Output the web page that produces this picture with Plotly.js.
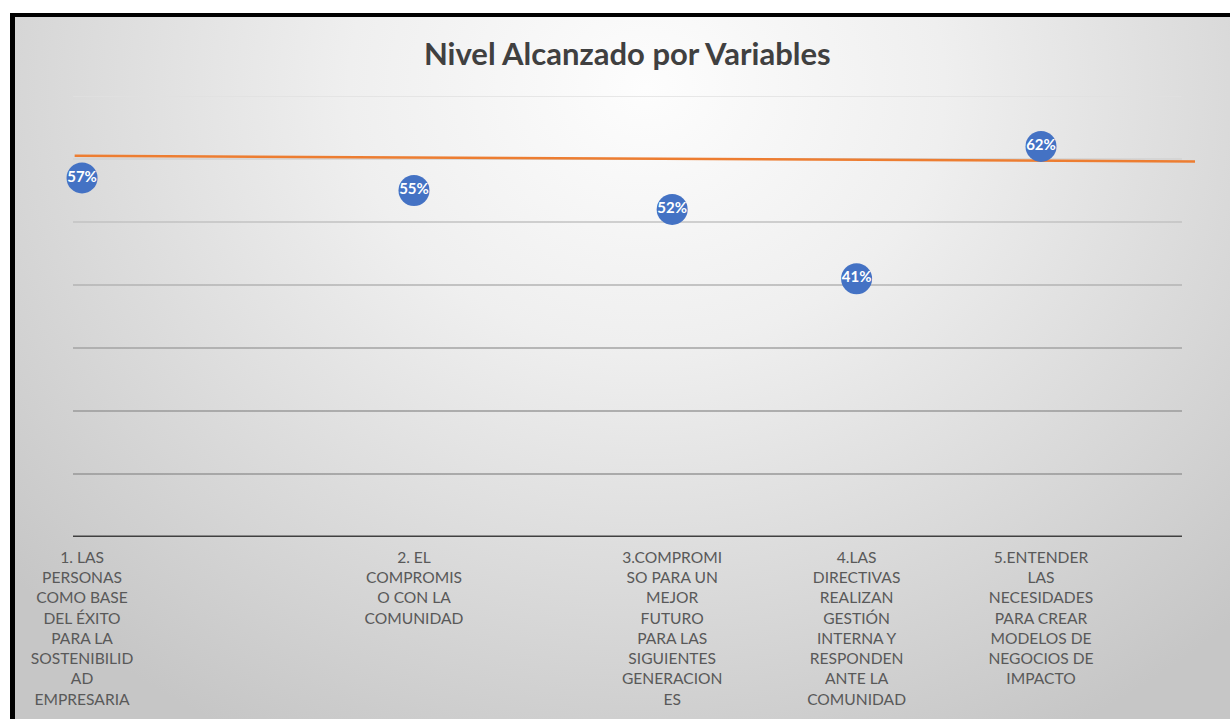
<!DOCTYPE html>
<html>
<head>
<meta charset="utf-8">
<script src="https://cdn.plot.ly/plotly-3.0.1.min.js"></script>
<style>
  html, body { margin: 0; padding: 0; background: #ffffff; width: 1230px; height: 719px; overflow: hidden; }
  #frame {
    position: absolute; left: 10px; top: 13px; width: 1220px; height: 706px;
    box-sizing: border-box; border-top: 4px solid #000; border-left: 5px solid #000;
    background: radial-gradient(ellipse 70% 105% at 52% 10%, #fdfdfd 0%, #efefef 35%, #d9d9d9 70%, #c6c6c6 100%);
  }
  #chart { position: absolute; left: 0; top: 0; width: 1230px; height: 719px; }
</style>
</head>
<body>
<div id="frame"></div>
<div id="chart"></div>
<script>
// ---- data ----
const categories = [
  "1. LAS<br>PERSONAS<br>COMO BASE<br>DEL ÉXITO<br>PARA LA<br>SOSTENIBILID<br>AD<br>EMPRESARIA",
  "2. EL<br>COMPROMIS<br>O CON LA<br>COMUNIDAD",
  "3.COMPROMI<br>SO PARA UN<br>MEJOR<br>FUTURO<br>PARA LAS<br>SIGUIENTES<br>GENERACION<br>ES",
  "4.LAS<br>DIRECTIVAS<br>REALIZAN<br>GESTIÓN<br>INTERNA Y<br>RESPONDEN<br>ANTE LA<br>COMUNIDAD",
  "5.ENTENDER<br>LAS<br>NECESIDADES<br>PARA CREAR<br>MODELOS DE<br>NEGOCIOS DE<br>IMPACTO"
];
const xPositions = [0, 3.6, 6.4, 8.4, 10.4];
const levels = [0.57, 0.55, 0.52, 0.41, 0.62];
const levelLabels = ["57%", "55%", "52%", "41%", "62%"];
const targetX = [-0.08, 12.07];
const targetY = [0.605, 0.596];
const yTicks = [0.1, 0.2, 0.3, 0.4, 0.5, 0.6, 0.7];

// ---- styles ----
const gridColors = ["#979797", "#9a9a9a", "#a3a3a3", "#b3b3b3", "#c2c2c2", "#d2d2d2", "#e0e0e0"];
const FONT = "Lato, 'Open Sans', sans-serif";

const shapes = yTicks.map((v, i) => ({
  type: "line", xref: "paper", yref: "y", x0: 0, x1: 0.9884, y0: v, y1: v,
  line: { color: gridColors[i], width: 1.5 }, layer: "below"
}));
shapes.push({
  type: "line", xref: "paper", yref: "y", x0: 0, x1: 0.9884, y0: 0, y1: 0,
  line: { color: "#404040", width: 3 }, layer: "below"
});

const traces = [
  {
    type: "scatter", mode: "lines", x: targetX, y: targetY,
    line: { color: "#ED7D31", width: 2.5 }, hoverinfo: "skip", showlegend: false
  },
  {
    type: "scatter", mode: "markers+text", x: xPositions, y: levels,
    text: levelLabels, textposition: "middle center",
    textfont: { family: FONT, size: 15, color: "#ffffff", weight: "bold" },
    marker: { size: 31, color: "#4472C4" },
    cliponaxis: false, showlegend: false
  }
];

const layout = {
  width: 1230, height: 719,
  margin: { l: 73, r: 35, t: 96, b: 182 },
  paper_bgcolor: "rgba(0,0,0,0)", plot_bgcolor: "rgba(0,0,0,0)",
  title: {
    text: "<b>Nivel Alcanzado por Variables</b>",
    font: { family: FONT, size: 31, color: "#404040" },
    xref: "container", yref: "container", x: 0.51, xanchor: "center", y: 0.925, yanchor: "middle"
  },
  xaxis: {
    range: [-0.098, 12.07], showgrid: false, zeroline: false, showline: false,
    tickmode: "array", tickvals: xPositions, ticktext: categories,
    ticks: "outside", ticklen: 6, tickcolor: "rgba(0,0,0,0)",
    tickfont: { family: FONT, size: 15.6, color: "#595959" }, fixedrange: true
  },
  yaxis: {
    range: [0, 0.7], showgrid: false, zeroline: false, showline: false,
    showticklabels: false, ticks: "", fixedrange: true
  },
  shapes: shapes,
  showlegend: false
};

Plotly.newPlot("chart", traces, layout, { displayModeBar: false, staticPlot: true });
</script>
</body>
</html>
